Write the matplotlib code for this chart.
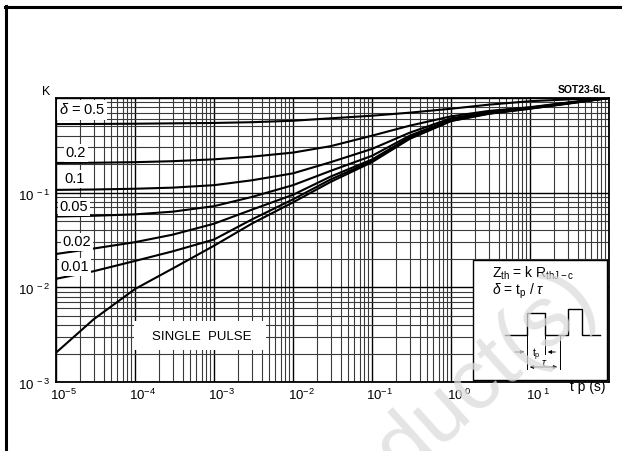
import matplotlib
matplotlib.use("Agg")
import matplotlib.pyplot as plt
import matplotlib.transforms as mtransforms
from matplotlib.patches import Rectangle
from matplotlib.lines import Line2D
from matplotlib.ticker import LogLocator, NullFormatter

plt.rcParams['font.family'] = ['Liberation Sans', 'DejaVu Sans']
plt.rcParams['mathtext.fontset'] = 'custom'
plt.rcParams['mathtext.rm'] = 'Liberation Sans'
plt.rcParams['mathtext.it'] = 'Liberation Sans:italic'
plt.rcParams['mathtext.bf'] = 'Liberation Sans:bold'

# pulse duration (s)
tp = [1e-5, 3e-5, 1e-4, 3e-4, 1e-3, 3e-3, 1e-2, 3e-2, 1e-1, 3e-1, 1, 3, 10, 30, 100]

# K for each duty cycle
k_d050 = [0.53, 0.532, 0.535, 0.54, 0.545, 0.555, 0.575, 0.61, 0.65, 0.70, 0.77, 0.85, 0.925, 0.965, 1.0]
k_d020 = [0.206, 0.207, 0.21, 0.215, 0.225, 0.24, 0.265, 0.31, 0.40, 0.51, 0.64, 0.73, 0.80, 0.895, 1.0]
k_d010 = [0.107, 0.108, 0.11, 0.113, 0.12, 0.135, 0.16, 0.21, 0.29, 0.43, 0.61, 0.71, 0.79, 0.89, 1.0]
k_d005 = [0.056, 0.057, 0.059, 0.063, 0.072, 0.09, 0.12, 0.17, 0.245, 0.40, 0.59, 0.70, 0.785, 0.885, 1.0]
k_d002 = [0.0225, 0.0257, 0.030, 0.036, 0.047, 0.066, 0.095, 0.148, 0.224, 0.385, 0.58, 0.69, 0.78, 0.88, 1.0]
k_d001 = [0.0123, 0.0148, 0.019, 0.024, 0.032, 0.052, 0.085, 0.138, 0.216, 0.375, 0.575, 0.685, 0.775, 0.875, 1.0]
k_single = [0.00204, 0.0046, 0.0096, 0.0158, 0.0275, 0.047, 0.079, 0.13, 0.21, 0.37, 0.57, 0.68, 0.77, 0.87, 1.0]

curve_labels = ["$\\delta$ = 0.5", "0.2", "0.1", "0.05", "0.02", "0.01", "SINGLE  PULSE"]

xtick_vals = [1e-5, 1e-4, 1e-3, 1e-2, 1e-1, 1e0, 1e1, 1e2]
xtick_labels = ["$10^{-5}$", "$10^{-4}$", "$10^{-3}$", "$10^{-2}$", "$10^{-1}$", "$10^{\\ 0}$", "$10^{\\ 1}$", ""]
ytick_vals = [1e-3, 1e-2, 1e-1, 1e0]
ytick_labels = ["$10^{\\ -3}$", "$10^{\\ -2}$", "$10^{\\ -1}$", ""]

W, H = 622, 451


def px(x, y):
    # pixel position -> figure fraction
    return x / W, 1 - y / H


fig = plt.figure(figsize=(W / 100, H / 100), dpi=100)
l, b = px(56, 382)
r, t = px(609, 98)
ax = fig.add_axes([l, b, r - l, t - b])
ax.set_xscale('log')
ax.set_yscale('log')
ax.set_xlim(1e-5, 1e2)
ax.set_ylim(1e-3, 1)

ax.xaxis.set_minor_locator(LogLocator(base=10, subs=range(2, 10), numticks=20))
ax.yaxis.set_minor_locator(LogLocator(base=10, subs=range(2, 10), numticks=20))
ax.xaxis.set_minor_formatter(NullFormatter())
ax.yaxis.set_minor_formatter(NullFormatter())
ax.set_xticks(xtick_vals)
ax.set_xticklabels(xtick_labels)
ax.set_yticks(ytick_vals)
ax.set_yticklabels(ytick_labels)
ax.tick_params(which='both', length=0, labelsize=9.5)
ax.tick_params(axis='x', pad=4)
ax.tick_params(axis='y', pad=4)

ax.grid(True, which='major', color='black', lw=1.0)
ax.grid(True, which='minor', color='#3a3a3a', lw=0.8)
for s in ax.spines.values():
    s.set_linewidth(1.3)

shift = mtransforms.ScaledTranslation(8 / 100, 0, fig.dpi_scale_trans)
for lab in ax.get_xticklabels():
    lab.set_transform(lab.get_transform() + shift)
shift_y = mtransforms.ScaledTranslation(0, -2 / 100, fig.dpi_scale_trans)
for lab in ax.get_yticklabels():
    lab.set_transform(lab.get_transform() + shift_y)

for k in [k_d050, k_d020, k_d010, k_d005, k_d002, k_d001, k_single]:
    ax.plot(tp, k, color='black', lw=1.5, zorder=3, solid_capstyle='butt')

tf = fig.transFigure

# white patches behind the curve labels
label_spots = [(82, 110), (76, 153), (75, 179), (74, 207), (77, 242), (75, 267), (202, 337)]
label_sizes = [10.5, 10.5, 10.5, 10.5, 10.5, 10.5, 9.5]
for (x, y), txt, fs in zip(label_spots, curve_labels, label_sizes):
    ax.text(*px(x, y), txt, transform=tf, fontsize=fs, ha='center', va='center', zorder=4,
            bbox=dict(facecolor='white', edgecolor='none', pad=1.5))
x0, y0 = px(134, 350)
x1, y1 = px(266, 321)
ax.add_patch(Rectangle((x0, y0), x1 - x0, y1 - y0, transform=tf, facecolor='white',
                       edgecolor='none', zorder=1.8))

# inset with definitions and pulse sketch
x0, y0 = px(473, 380)
x1, y1 = px(607, 260)
ax.add_patch(Rectangle((x0, y0), x1 - x0, y1 - y0, transform=tf, facecolor='white',
                       edgecolor='black', lw=1.0, zorder=4))
ax.text(*px(492, 273), r"$\mathrm{Z_{th}}$ = k $\mathrm{R_{thJ-c}}$", transform=tf,
        fontsize=10, ha='left', va='center', zorder=5)
ax.text(*px(492, 291), r"$\delta$ = $\mathrm{t_p}$ / $\tau$", transform=tf,
        fontsize=10, ha='left', va='center', zorder=5)

wave = [(505, 335), (527, 335), (527, 313), (545, 313), (545, 335), (568, 335),
        (568, 309), (582, 309), (582, 335), (600, 335)]
wx = [px(a, c)[0] for a, c in wave]
wy = [px(a, c)[1] for a, c in wave]
ax.add_line(Line2D(wx, wy, transform=tf, color='black', lw=1.0, zorder=5))
for xx, ya, yb in [(527, 335, 369), (545, 335, 354), (560, 335, 369)]:
    p0 = px(xx, ya)
    p1 = px(xx, yb)
    ax.add_line(Line2D([p0[0], p1[0]], [p0[1], p1[1]], transform=tf, color='black', lw=0.7, zorder=5))
ax.annotate("", xy=px(527, 352), xytext=px(512, 352), xycoords=tf, textcoords=tf,
            arrowprops=dict(arrowstyle='-|>', lw=0.7, color='black', mutation_scale=5), zorder=5)
ax.annotate("", xy=px(545, 352), xytext=px(558, 352), xycoords=tf, textcoords=tf,
            arrowprops=dict(arrowstyle='-|>', lw=0.7, color='black', mutation_scale=5), zorder=5)
ax.annotate("", xy=px(527, 367), xytext=px(560, 367), xycoords=tf, textcoords=tf,
            arrowprops=dict(arrowstyle='<|-|>', lw=0.7, color='black', mutation_scale=5), zorder=5)
ax.text(*px(536, 355), r"$\mathrm{t_p}$", transform=tf, fontsize=7.5, ha='center', va='center', zorder=5)
ax.text(*px(544, 363), r"$\tau$", transform=tf, fontsize=7.5, ha='center', va='center', zorder=5)

# other text
fig.text(*px(46, 92), "K", fontsize=9, ha='center', va='center')
fig.text(*px(606, 90), "SOT23-6L", fontsize=7.5, ha='right', va='center', weight='bold')
fig.text(*px(588, 387), "t p (s)", fontsize=10, ha='center', va='center')

# page frame
fig.add_artist(Line2D([5 / W, 1], [1 - 7 / H, 1 - 7 / H], transform=tf, color='black', lw=2.2))
fig.add_artist(Line2D([6 / W, 6 / W], [0, 1 - 6 / H], transform=tf, color='black', lw=2.2))

# faint watermark
fig.text(*px(598, 300), "Product(s)", fontsize=62, color='#dcdcdc', rotation=42,
         rotation_mode='anchor', ha='right', va='baseline', zorder=20, alpha=0.75)

fig.savefig("out.png", dpi=100)
